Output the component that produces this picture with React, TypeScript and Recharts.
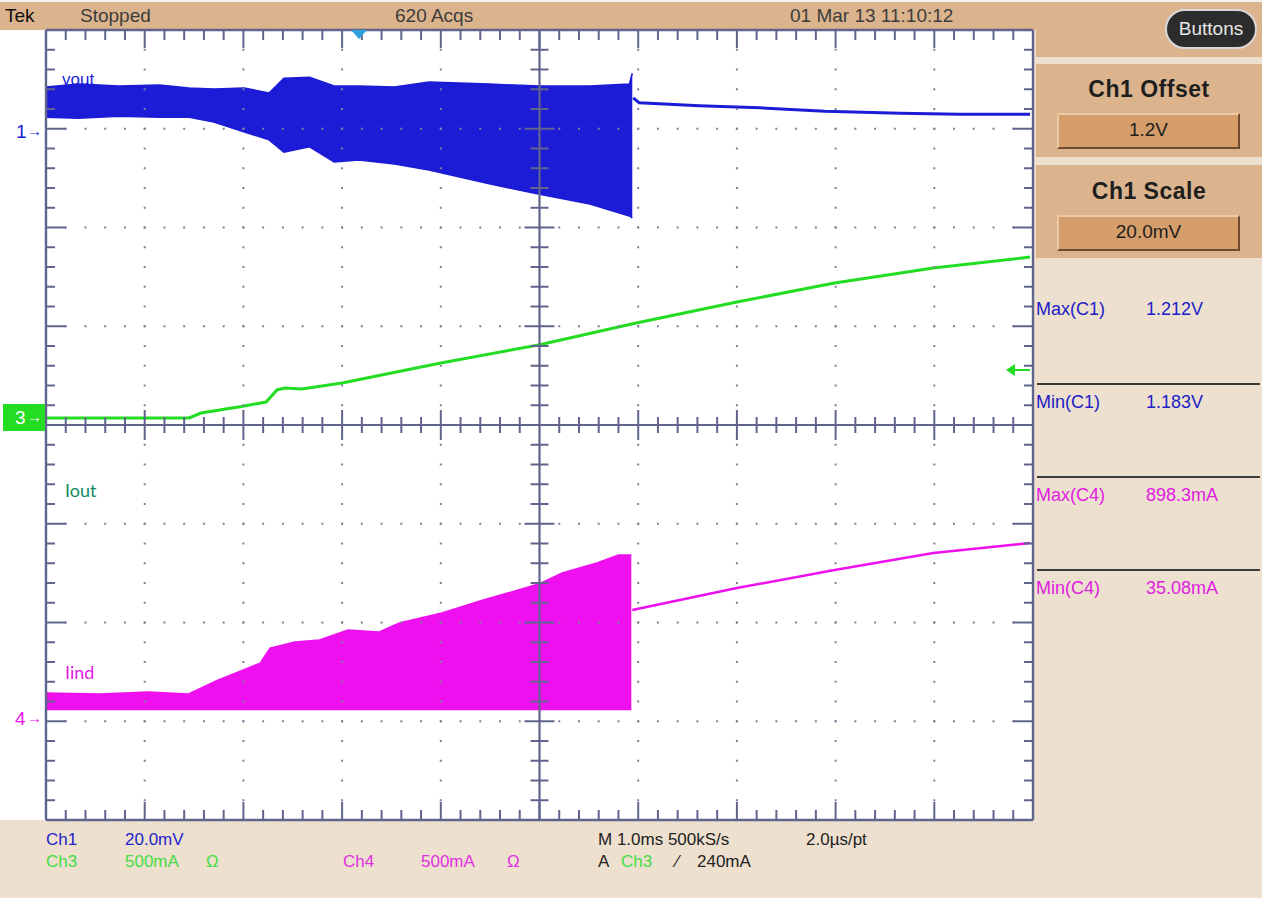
import React from "react";
import { ComposedChart, Area, Line, XAxis, YAxis, ReferenceLine } from "recharts";

// ---------------- values (time in ms, 1.0 ms/div) ----------------
// Ch1 (Vout) - switching band (envelope low/high) then settled trace
const CH1_BAND_TIME_MS = [0, 0.33, 0.74, 1.15, 1.45, 1.7, 2.01, 2.26, 2.41, 2.67, 2.92, 3.17, 3.53, 3.88, 4.49, 5.0, 5.51, 5.91, 5.94];
const CH1_BAND_HIGH_V = [1.2087, 1.2093, 1.2089, 1.2091, 1.2085, 1.2083, 1.2085, 1.2075, 1.2105, 1.2107, 1.2089, 1.2089, 1.2087, 1.2097, 1.2093, 1.2089, 1.2089, 1.2093, 1.2115];
const CH1_BAND_LOW_V = [1.2026, 1.2024, 1.2028, 1.2026, 1.2026, 1.2016, 1.1996, 1.198, 1.1955, 1.1966, 1.1935, 1.1939, 1.1931, 1.1919, 1.1891, 1.187, 1.185, 1.1826, 1.1822];
const CH1_SETTLED_TIME_MS = [5.95, 6.01, 6.62, 7.23, 7.89, 8.65, 9.26, 9.97];
const CH1_SETTLED_V = [1.2065, 1.2055, 1.2049, 1.2045, 1.2038, 1.2034, 1.2032, 1.2032];

// Ch3 (Iout)
const CH3_TIME_MS = [0, 1.45, 1.57, 2.01, 2.23, 2.34, 2.42, 2.59, 3.0, 4.0, 4.99, 5.98, 7.0, 7.99, 8.99, 9.97];
const CH3_MA = [0, 0, 25, 61, 81, 142, 152, 147, 177, 278, 370, 481, 587, 684, 759, 815];

// Ch4 (Iind) - switching band then settled trace
const CH4_BAND_TIME_MS = [0, 0.54, 1.04, 1.44, 1.53, 1.74, 2.0, 2.17, 2.27, 2.52, 2.77, 3.06, 3.37, 3.58, 4.01, 4.43, 4.99, 5.23, 5.58, 5.8, 5.93];
const CH4_BAND_HIGH_MA = [122, 116, 127, 116, 137, 187, 238, 273, 349, 380, 390, 441, 430, 476, 527, 592, 673, 729, 780, 820, 820];
const CH4_BAND_LOW_MA = [38, 38, 38, 38, 38, 38, 38, 38, 38, 38, 38, 38, 38, 38, 38, 38, 38, 38, 38, 38, 38];
const CH4_SETTLED_TIME_MS = [5.94, 7.0, 7.99, 8.99, 9.97];
const CH4_SETTLED_MA = [542, 653, 744, 830, 881];

// screen texts
const TOP_BAR = { brand: "Tek", state: "Stopped", acqs: "620 Acqs", date: "01 Mar 13 11:10:12" };
const MEASUREMENTS = [
  { name: "Max(C1)", value: "1.212V", color: "#2020c8" },
  { name: "Min(C1)", value: "1.183V", color: "#2020c8" },
  { name: "Max(C4)", value: "898.3mA", color: "#e020e0" },
  { name: "Min(C4)", value: "35.08mA", color: "#e020e0" },
];

// ---------------- layout ----------------
const W = 1262;
const H = 898;
const PL = 46, PT = 30, PR = 1033, PB = 820;
const DIV_X = (PR - PL) / 10;
const DIV_Y = (PB - PT) / 8;

const BLUE = "#1c1cd6";
const GREEN = "#22dd22";
const MAGENTA = "#ee10ee";
const GRAT = "#60648c";
const DOT = "#80809a";
const BEIGE = "#eee0ce";
const TAN = "#dbb48d";
const FIELD = "#d49d6a";
const FONT = '"Liberation Sans", Arial, sans-serif';

// channel ground markers (pixel rows of the 1/3/4 markers) -> axis domains
const divFromBottom = (py: number) => (PB - py) / DIV_Y;
const CH1_M = divFromBottom(130);
const CH3_M = divFromBottom(418);
const CH4_M = divFromBottom(717);
const CH1_DOMAIN = [1.2 - CH1_M * 0.02, 1.2 + (8 - CH1_M) * 0.02];
const CH3_DOMAIN = [-CH3_M * 500, (8 - CH3_M) * 500];
const CH4_DOMAIN = [-CH4_M * 500, (8 - CH4_M) * 500];

function buildTable() {
  const map = new Map<number, any>();
  const put = (times: number[], key: string, vals: any[]) => {
    times.forEach((t, i) => {
      const r = map.get(t) ?? { t };
      r[key] = vals[i];
      map.set(t, r);
    });
  };
  put(CH1_BAND_TIME_MS, "c1Band", CH1_BAND_TIME_MS.map((_, i) => [CH1_BAND_LOW_V[i], CH1_BAND_HIGH_V[i]]));
  put(CH1_SETTLED_TIME_MS, "c1", CH1_SETTLED_V);
  put(CH3_TIME_MS, "c3", CH3_MA);
  put(CH4_BAND_TIME_MS, "c4Band", CH4_BAND_TIME_MS.map((_, i) => [CH4_BAND_LOW_MA[i], CH4_BAND_HIGH_MA[i]]));
  put(CH4_SETTLED_TIME_MS, "c4", CH4_SETTLED_MA);
  return [...map.values()].sort((a, b) => a.t - b.t);
}
const TABLE = buildTable();

const stepsX = Array.from({ length: 51 }, (_, i) => +(i * 0.2).toFixed(1));
const stepsY = Array.from({ length: 41 }, (_, i) => +(i * 0.2).toFixed(1));
const isMajor = (v: number) => Math.abs(v - Math.round(v)) < 1e-6;

function graticule() {
  const out: any[] = [];
  const seg = (key: string, x1: number, y1: number, x2: number, y2: number, w = 2) =>
    out.push(
      <ReferenceLine
        key={key}
        yAxisId="div"
        segment={[{ x: x1, y: y1 }, { x: x2, y: y2 }]}
        stroke={GRAT}
        strokeWidth={w}
        ifOverflow="visible"
      />
    );
  // dotted division lines
  for (let i = 1; i < 10; i++) {
    if (i === 5) continue;
    out.push(
      <ReferenceLine key={"vx" + i} yAxisId="div" x={i} stroke={DOT} strokeWidth={2} strokeDasharray={`2 ${DIV_Y / 5 - 2}`} strokeDashoffset={1} />
    );
  }
  for (let j = 1; j < 8; j++) {
    if (j === 4) continue;
    out.push(
      <ReferenceLine key={"hy" + j} yAxisId="div" y={j} stroke={DOT} strokeWidth={2} strokeDasharray={`2 ${DIV_X / 5 - 2}`} strokeDashoffset={1} />
    );
  }
  // edge ticks
  stepsX.forEach((x) => {
    if (x === 0 || x === 10) return;
    const len = isMajor(x) ? 18 : 10;
    seg("tt" + x, x, 8, x, 8 - len / DIV_Y);
    seg("bt" + x, x, 0, x, len / DIV_Y);
    const c = isMajor(x) ? 15 : 8;
    if (x !== 5) seg("ch" + x, x, 4 - c / DIV_Y, x, 4 + c / DIV_Y);
  });
  stepsY.forEach((y) => {
    if (y === 0 || y === 8) return;
    const len = isMajor(y) ? 20 : 9;
    seg("lt" + y, 0, y, len / DIV_X, y);
    seg("rt" + y, 10, y, 10 - len / DIV_X, y);
    const c = isMajor(y) ? 15 : 9;
    if (y !== 4) seg("cv" + y, 5 - c / DIV_X, y, 5 + c / DIV_X, y);
  });
  // centre cross and frame
  seg("cx", 5, 0, 5, 8, 2.2);
  seg("cy", 0, 4, 10, 4, 2.2);
  seg("f1", 0, 0, 0, 8, 2.4);
  seg("f2", 10, 0, 10, 8, 2.4);
  seg("f3", 0, 0, 10, 0, 2.4);
  seg("f4", 0, 8, 10, 8, 2.4);
  return out;
}

function T(props: { x: number; y: number; c?: string; s?: number; w?: any; f?: string; ls?: number; children: any }) {
  const s = props.s ?? 17;
  return (
    <div
      style={{
        position: "absolute",
        left: props.x,
        top: props.y - s * 0.58,
        color: props.c ?? "#222",
        fontSize: s,
        fontWeight: props.w ?? "normal",
        fontFamily: props.f ?? FONT,
        letterSpacing: props.ls ?? 0,
        lineHeight: 1.15 + "",
        whiteSpace: "nowrap",
      }}
    >
      {props.children}
    </div>
  );
}

function Box(props: { x: number; y: number; w: number; h: number; bg: string; style?: any }) {
  return (
    <div
      style={{
        position: "absolute",
        left: props.x,
        top: props.y,
        width: props.w,
        height: props.h,
        background: props.bg,
        ...(props.style || {}),
      }}
    />
  );
}

const fieldStyle = {
  borderTop: "2px solid #ecc9a4",
  borderLeft: "2px solid #ecc9a4",
  borderRight: "2px solid #6e4b2c",
  borderBottom: "2px solid #6e4b2c",
  boxSizing: "border-box",
};

export default function App() {
  return (
    <div style={{ position: "absolute", left: 0, top: 0, width: W, height: H, background: "#ffffff", overflow: "hidden", fontFamily: FONT }}>
      {/* frame areas */}
      <Box x={0} y={0} w={W} h={2} bg="#f2f2f2" />
      <Box x={0} y={2} w={W} h={PT - 2} bg={TAN} />
      <Box x={0} y={PB} w={W} h={H - PB} bg={BEIGE} />
      <Box x={PR} y={PT} w={W - PR} h={PB - PT} bg={BEIGE} />
      <Box x={1036} y={PT} w={W - 1036} h={27} bg={TAN} />
      <Box x={1036} y={64} w={W - 1036} h={93} bg={TAN} />
      <Box x={1036} y={165} w={W - 1036} h={93} bg={TAN} />
      <Box x={1057} y={113} w={183} h={36} bg={FIELD} style={fieldStyle} />
      <Box x={1057} y={215} w={183} h={36} bg={FIELD} style={fieldStyle} />
      <Box x={PL} y={PT} w={PR - PL} h={PB - PT} bg="#ffffff" />

      <div style={{ position: "absolute", left: 0, top: 0 }}>
        <ComposedChart width={W} height={H} data={TABLE} margin={{ top: PT, left: PL, right: W - PR, bottom: H - PB }}>
          <XAxis dataKey="t" type="number" domain={[0, 10]} hide allowDataOverflow />
          <YAxis yAxisId="div" type="number" domain={[0, 8]} hide allowDataOverflow />
          <YAxis yAxisId="v1" type="number" domain={CH1_DOMAIN} hide allowDataOverflow />
          <YAxis yAxisId="i3" type="number" domain={CH3_DOMAIN} hide allowDataOverflow />
          <YAxis yAxisId="i4" type="number" domain={CH4_DOMAIN} hide allowDataOverflow />

          <Area yAxisId="v1" dataKey="c1Band" type="linear" stroke={BLUE} strokeWidth={1.5} fill={BLUE} fillOpacity={1} connectNulls dot={false} activeDot={false} isAnimationActive={false} />
          <Line yAxisId="v1" dataKey="c1" type="linear" stroke={BLUE} strokeWidth={3} connectNulls dot={false} activeDot={false} isAnimationActive={false} />
          <Line yAxisId="i3" dataKey="c3" type="linear" stroke={GREEN} strokeWidth={3} connectNulls dot={false} activeDot={false} isAnimationActive={false} />
          <Area yAxisId="i4" dataKey="c4Band" type="linear" stroke={MAGENTA} strokeWidth={1.5} fill={MAGENTA} fillOpacity={1} connectNulls dot={false} activeDot={false} isAnimationActive={false} />
          <Line yAxisId="i4" dataKey="c4" type="linear" stroke={MAGENTA} strokeWidth={2.5} connectNulls dot={false} activeDot={false} isAnimationActive={false} />

          {graticule()}
        </ComposedChart>
      </div>

      {/* top status bar */}
      <T x={5} y={16} s={19} c="#111">{TOP_BAR.brand}</T>
      <T x={80} y={16} s={19} c="#3c3c3c">{TOP_BAR.state}</T>
      <T x={395} y={16} s={19} c="#3c3c3c">{TOP_BAR.acqs}</T>
      <T x={790} y={16} s={19} c="#3c3c3c">{TOP_BAR.date}</T>

      {/* trigger position marker */}
      <svg style={{ position: "absolute", left: 350, top: 30 }} width={18} height={10}>
        <polygon points="1,0 17,0 9,9" fill="#2e9fdc" />
      </svg>
      {/* trigger level arrow (Ch3) */}
      <svg style={{ position: "absolute", left: 1004, top: 362 }} width={28} height={16}>
        <line x1={8} y1={8} x2={26} y2={8} stroke={GREEN} strokeWidth={2} />
        <polygon points="2,8 11,2 11,14" fill={GREEN} />
      </svg>

      {/* buttons */}
      <div style={{ position: "absolute", left: 1165, top: 9, width: 92, height: 40, borderRadius: 20, background: "#2c2c2c", border: "2px solid #d8d8d8", boxSizing: "border-box", color: "#e8e8e8", fontSize: 19, textAlign: "center", lineHeight: "36px" }}>
        Buttons
      </div>
      <div style={{ position: "absolute", left: 1036, top: 76, width: 226, textAlign: "center", fontSize: 23, fontWeight: "bold", color: "#1e1e1e", letterSpacing: 0.5 }}>Ch1 Offset</div>
      <div style={{ position: "absolute", left: 1057, top: 119, width: 183, textAlign: "center", fontSize: 19, color: "#1e1e1e" }}>1.2V</div>
      <div style={{ position: "absolute", left: 1036, top: 178, width: 226, textAlign: "center", fontSize: 23, fontWeight: "bold", color: "#1e1e1e", letterSpacing: 0.5 }}>Ch1 Scale</div>
      <div style={{ position: "absolute", left: 1057, top: 221, width: 183, textAlign: "center", fontSize: 19, color: "#1e1e1e" }}>20.0mV</div>

      {/* measurements */}
      {MEASUREMENTS.map((m, i) => (
        <React.Fragment key={m.name}>
          <T x={1036} y={309 + i * 93} s={18} c={m.color}>{m.name}</T>
          <T x={1146} y={309 + i * 93} s={18} c={m.color}>{m.value}</T>
          {i < 3 && <Box x={1037} y={383 + i * 93} w={223} h={2} bg="#3a3a3a" />}
        </React.Fragment>
      ))}

      {/* channel markers */}
      <T x={16} y={132} s={19} c={BLUE}>1</T>
      <T x={27} y={131} s={15} c={BLUE}>→</T>
      <div style={{ position: "absolute", left: 3, top: 404, width: 42, height: 27, background: GREEN }} />
      <T x={15} y={418} s={19} c="#ffffff">3</T>
      <T x={27} y={417} s={15} c="#ffffff">→</T>
      <T x={15} y={719} s={19} c={MAGENTA}>4</T>
      <T x={27} y={718} s={15} c={MAGENTA}>→</T>

      {/* in-plot labels */}
      <T x={62} y={80} s={17} c={BLUE}>vout</T>
      <T x={65} y={490} s={18} c="#0f8a5f" f="Lato, 'Open Sans', sans-serif">Iout</T>
      <T x={65} y={672} s={18} c="#e020e0" f="Lato, 'Open Sans', sans-serif">Iind</T>

      {/* bottom readout */}
      <T x={46} y={840} s={17} c="#2424c8">Ch1</T>
      <T x={125} y={840} s={17} c="#2424c8">20.0mV</T>
      <T x={46} y={862} s={17} c="#44dd44">Ch3</T>
      <T x={125} y={862} s={17} c="#44dd44">500mA</T>
      <T x={206} y={862} s={17} c="#44dd44">Ω</T>
      <T x={343} y={862} s={17} c="#e030e0">Ch4</T>
      <T x={421} y={862} s={17} c="#e030e0">500mA</T>
      <T x={507} y={862} s={17} c="#e030e0">Ω</T>
      <T x={598} y={840} s={17} c="#222">M 1.0ms 500kS/s</T>
      <T x={806} y={840} s={17} c="#222">2.0µs/pt</T>
      <T x={598} y={862} s={17} c="#222">A</T>
      <T x={621} y={862} s={17} c="#44dd44">Ch3</T>
      <T x={676} y={862} s={17} c="#222">⁄</T>
      <T x={697} y={862} s={17} c="#222">240mA</T>
    </div>
  );
}
